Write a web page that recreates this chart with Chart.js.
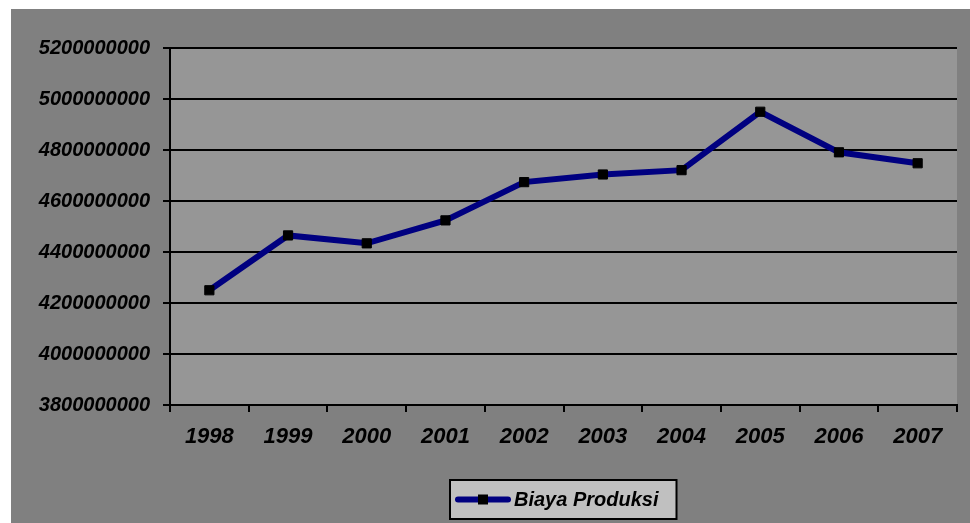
<!DOCTYPE html>
<html>
<head>
<meta charset="utf-8">
<script src="https://cdn.jsdelivr.net/npm/chart.js@4/dist/chart.umd.min.js"></script>
<style>
  html, body { margin: 0; padding: 0; background: #fff; }
  #wrap { position: absolute; left: 11px; top: 9px; width: 959px; height: 514px; background: #808080; }
</style>
</head>
<body>
<div id="wrap"><canvas id="biayaChart"></canvas></div>
<script>
const tahun = ['1998', '1999', '2000', '2001', '2002', '2003', '2004', '2005', '2006', '2007'];
const biayaProduksi = [4250000000, 4465000000, 4434000000, 4524000000, 4674000000, 4704000000, 4721000000, 4950000000, 4791000000, 4748000000];
const yTicks = [3800000000, 4000000000, 4200000000, 4400000000, 4600000000, 4800000000, 5000000000, 5200000000];

const FONT = '"Liberation Sans", Arial, sans-serif';

// grey plot background + boxed legend below the axis
const plotStyle = {
    id: 'plotStyle',
    beforeDraw(chart) {
        const a = chart.chartArea;
        const c = chart.ctx;
        c.save();
        c.fillStyle = '#969696';
        c.fillRect(a.left, a.top, a.right - a.left, a.bottom - a.top);
        c.restore();
    },
    afterDraw(chart) {
        const a = chart.chartArea;
        const c = chart.ctx;
        const ds = chart.data.datasets[0];
        c.save();
        c.font = 'italic bold 20px ' + FONT;
        const tw = c.measureText(ds.label).width;
        const w = 5 + 55 + 4 + tw + 18;
        const h = 39;
        const x = Math.round((a.left + a.right) / 2 - w / 2);
        const y = a.bottom + 75;
        c.fillStyle = '#c0c0c0';
        c.fillRect(x, y, w, h);
        c.strokeStyle = '#000';
        c.lineWidth = 2;
        c.strokeRect(x, y, w, h);
        const my = y + h / 2;
        c.strokeStyle = ds.borderColor;
        c.lineWidth = 6;
        c.lineCap = 'round';
        c.beginPath();
        c.moveTo(x + 8, my);
        c.lineTo(x + 58, my);
        c.stroke();
        c.fillStyle = '#000';
        c.fillRect(x + 28, my - 5, 10, 10);
        c.textBaseline = 'middle';
        c.fillText(ds.label, x + 64, my + 1);
        c.restore();
    }
};

const ctx = document.getElementById('biayaChart').getContext('2d');

const biayaChart = new Chart(ctx, {
    type: 'line',
    data: {
        labels: tahun,
        datasets: [{
            label: 'Biaya Produksi',
            data: biayaProduksi,
            borderColor: '#000080',
            borderWidth: 6,
            tension: 0,
            pointStyle: 'rect',
            pointRadius: 6.5,
            pointBackgroundColor: '#000',
            pointBorderColor: '#000',
            pointBorderWidth: 1
        }]
    },
    options: {
        responsive: true,
        maintainAspectRatio: false,
        animation: false,
        layout: {
            padding: { top: 39, right: 13, left: 0, bottom: 0 }
        },
        scales: {
            x: {
                offset: true,
                afterFit: (s) => { s.height = 118; },
                ticks: {
                    color: '#000',
                    padding: 12,
                    maxRotation: 0,
                    font: { family: FONT, size: 22, weight: 'bold', style: 'italic' }
                },
                grid: {
                    offset: true,
                    drawOnChartArea: false,
                    tickLength: 7,
                    color: '#000',
                    lineWidth: 2
                },
                border: { color: '#000', width: 2 }
            },
            y: {
                min: 3800000000,
                max: 5200000000,
                afterFit: (s) => { s.width = 159; },
                afterBuildTicks: (s) => { s.ticks = yTicks.map(v => ({ value: v })); },
                ticks: {
                    color: '#000',
                    padding: 13,
                    callback: (v) => String(v),
                    font: { family: FONT, size: 20, weight: 'bold', style: 'italic' }
                },
                grid: {
                    tickLength: 7,
                    color: '#000',
                    lineWidth: 2
                },
                border: { color: '#000', width: 2 }
            }
        },
        plugins: {
            legend: { display: false },
            tooltip: { enabled: false }
        }
    },
    plugins: [plotStyle]
});
</script>
</body>
</html>
